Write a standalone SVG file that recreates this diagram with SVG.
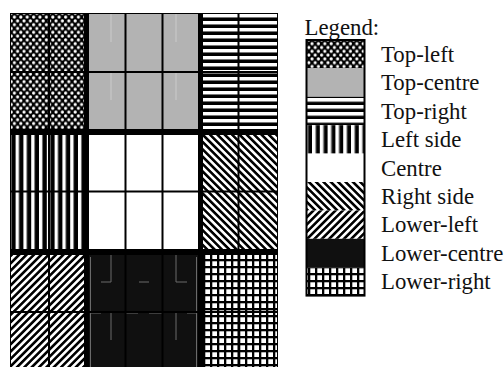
<svg xmlns="http://www.w3.org/2000/svg" width="504" height="367" viewBox="0 0 504 367">
<style>
.lbl{font-family:"Liberation Serif","Times New Roman",serif;font-size:22.8px;fill:#111}
.sub{stroke:#000;stroke-width:2;fill:none}
.art{stroke:#6a6a6a;stroke-width:1;fill:none}
.artl{stroke:#cbcbcb;stroke-width:1;fill:none}
</style>
<defs>
<pattern id="p-dots" patternUnits="userSpaceOnUse" width="6.4" height="7.6">
<rect width="6.4" height="7.6" fill="#000"/>
<circle cx="1.6" cy="1.9" r="1.6" fill="#fff"/>
<circle cx="4.8" cy="5.7" r="1.6" fill="#fff"/>
</pattern>
<pattern id="p-hstripe" patternUnits="userSpaceOnUse" width="7" height="7">
<rect width="7" height="3.2" fill="#fff"/>
<rect y="3.2" width="7" height="0.9" fill="#888"/>
<rect y="4.1" width="7" height="2.9" fill="#000"/>
</pattern>
<pattern id="p-vstripe" patternUnits="userSpaceOnUse" width="7.8" height="8">
<rect width="3.2" height="8" fill="#fff"/>
<rect x="3.2" width="0.9" height="8" fill="#888"/>
<rect x="4.1" width="3.7" height="8" fill="#000"/>
</pattern>
<pattern id="p-back" patternUnits="userSpaceOnUse" width="5.2" height="5.2" patternTransform="rotate(-45)">
<rect width="5.2" height="5.2" fill="#fff"/>
<rect width="2.6" height="5.2" fill="#000"/>
</pattern>
<pattern id="p-fwd" patternUnits="userSpaceOnUse" width="5.2" height="5.2" patternTransform="rotate(45)">
<rect width="5.2" height="5.2" fill="#fff"/>
<rect width="2.6" height="5.2" fill="#000"/>
</pattern>
<pattern id="p-grid" patternUnits="userSpaceOnUse" width="7" height="7">
<rect width="7" height="7" fill="#000"/>
<rect x="2.3" y="2.3" width="4.7" height="4.7" fill="#fff"/>
</pattern>
</defs>

<rect x="10" y="13" width="268" height="356" fill="#000"/>

<g id="top-left">
<rect x="11" y="14" width="73" height="115" fill="url(#p-dots)"/>
<path class="sub" d="M49 14V129M11 72H84"/>
</g>
<g id="top-centre">
<rect x="89" y="14" width="109" height="115" fill="#b3b3b3"/>
<path class="artl" d="M111 14V42M111 73V100M176 14V42M176 73V100"/>
<path class="sub" d="M125.5 14V129M162.5 14V129M89 72H198"/>
</g>
<g id="top-right">
<rect x="203" y="14" width="74" height="115" fill="url(#p-hstripe)"/>
<path class="sub" d="M238.5 14V129M203 72H277"/>
</g>
<g id="left-side">
<rect x="11" y="135" width="73" height="114" fill="url(#p-vstripe)"/>
<path class="sub" d="M49 135V249M11 191.5H84"/>
</g>
<g id="centre">
<rect x="89" y="135" width="109" height="114" fill="#fff"/>
<path class="sub" d="M125.5 135V249M162.5 135V249M89 191.5H198"/>
</g>
<g id="right-side">
<rect x="203" y="135" width="74" height="114" fill="url(#p-back)"/>
<path class="sub" d="M238.5 135V249M203 191.5H277"/>
</g>
<g id="lower-left">
<rect x="11" y="255" width="73" height="114" fill="url(#p-fwd)"/>
<path class="sub" d="M49 255V369M11 312H84"/>
</g>
<g id="lower-centre">
<rect x="89" y="255" width="109" height="114" fill="#101010"/>
<path class="art" d="M90.5 257V369M196.5 257V369M111 255V282H101M139 282H149M176 255V282H187M90 313H101M126 313H138M149 313H162M187 313H197M111 313V340M176 313V340"/>
<path class="sub" d="M125.5 255V369M162.5 255V369M89 312H198"/>
</g>
<g id="lower-right">
<rect x="203" y="255" width="74" height="114" fill="url(#p-grid)"/>
<path class="sub" d="M238.5 255V369M203 312H277"/>
</g>

<g id="legend">
<text class="lbl" x="304.5" y="34.5">Legend:</text>
<g id="legend-top-left"><rect x="306.5" y="40" width="58" height="28.4" fill="url(#p-dots)"/><text class="lbl" x="381" y="62">Top-left</text></g>
<g id="legend-top-centre"><rect x="306.5" y="68.4" width="58" height="28.4" fill="#b3b3b3"/><text class="lbl" x="381" y="90.4">Top-centre</text></g>
<g id="legend-top-right"><rect x="306.5" y="96.8" width="58" height="28.4" fill="url(#p-hstripe)"/><text class="lbl" x="381" y="118.8">Top-right</text></g>
<g id="legend-left-side"><rect x="306.5" y="125.2" width="58" height="28.4" fill="url(#p-vstripe)"/><text class="lbl" x="381" y="147.2">Left side</text></g>
<g id="legend-centre"><rect x="306.5" y="153.6" width="58" height="28.4" fill="#fff"/><text class="lbl" x="381" y="175.6">Centre</text></g>
<g id="legend-right-side"><rect x="306.5" y="182" width="58" height="28.4" fill="url(#p-back)"/><text class="lbl" x="381" y="204">Right side</text></g>
<g id="legend-lower-left"><rect x="306.5" y="210.4" width="58" height="28.4" fill="url(#p-fwd)"/><text class="lbl" x="381" y="232.4">Lower-left</text></g>
<g id="legend-lower-centre"><rect x="306.5" y="238.8" width="58" height="28.4" fill="#101010"/><text class="lbl" x="381" y="260.8">Lower-centre</text></g>
<g id="legend-lower-right"><rect x="306.5" y="267.2" width="58" height="28.4" fill="url(#p-grid)"/><text class="lbl" x="381" y="289.2">Lower-right</text></g>
<rect x="306.5" y="40" width="58" height="255.6" fill="none" stroke="#000" stroke-width="2"/>
</g>
</svg>
